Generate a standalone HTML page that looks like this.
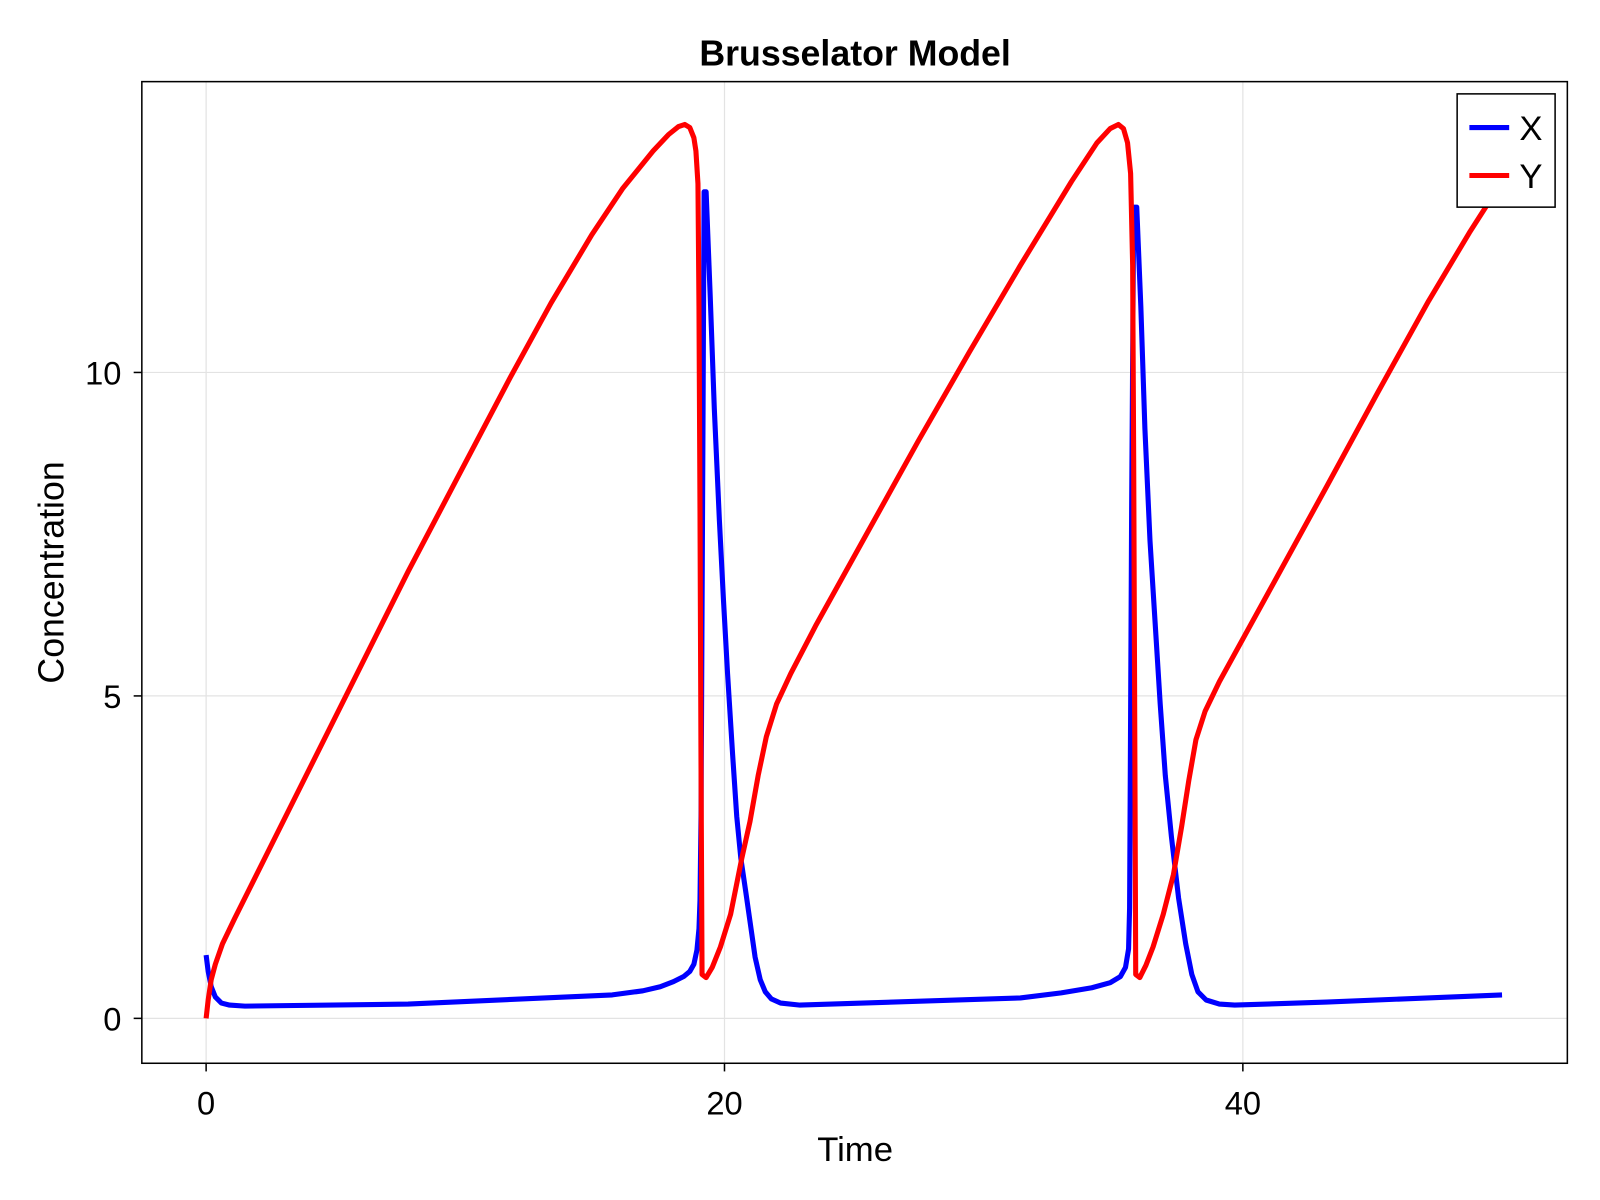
<!DOCTYPE html>
<html><head><meta charset="utf-8"><style>
html,body{margin:0;padding:0;background:#fff;}
svg{display:block;}
text{font-family:"Liberation Sans",sans-serif;}
</style></head><body>
<svg width="1600" height="1200" viewBox="0 0 1568 1176" xmlns="http://www.w3.org/2000/svg">
<rect width="1568" height="1176" fill="#fff"/>
<g stroke="#e3e3e3" stroke-width="1.2">
<line x1="202" y1="80" x2="202" y2="1042"/>
<line x1="710" y1="80" x2="710" y2="1042"/>
<line x1="1218" y1="80" x2="1218" y2="1042"/>
<line x1="139" y1="998" x2="1536" y2="998"/>
<line x1="139" y1="682" x2="1536" y2="682"/>
<line x1="139" y1="365" x2="1536" y2="365"/>
</g>
<g fill="none" stroke-width="5" stroke-linejoin="round" stroke-linecap="butt">
<polyline stroke="#0000ff" points="202,936 204,952 207,967 211,977 217,983 225,985 240,986 400,984 600,975 630,971 647,967 660,962 670,957 676,952 680,945 683,931 685,910 686,882 687,800 688,600 689,400 690,188 692,188 696,290 700,400 705,510 709,588 713,660 718,740 722,800 726,841 731,875 736,910 740,938 745,960 750,972 756,979 765,983 784,985 1000,978 1040,973 1070,968 1088,963 1098,957 1103,948 1106,930 1107,890 1108,700 1109,500 1111,203 1114,203 1118,300 1122,420 1127,530 1132,610 1137,690 1142,760 1148,820 1155,880 1162,925 1168,955 1174,972 1182,980 1195,984 1210,985 1300,982 1472,975"/>
<polyline stroke="#ff0000" points="202,998 204,980 207,960 211,945 218,925 230,900 260,840 300,760 350,660 400,560 450,465 500,370 540,297 580,230 610,185 640,148 655,132 665,124 671,122 676,125 680,135 682,148 684,180 685,300 686,500 687,750 688,955 692,958 698,948 706,928 716,896 727,841 735,805 743,760 751,722 761,690 775,660 800,612 850,522 900,432 950,345 1000,260 1050,178 1075,140 1088,126 1096,122 1101,126 1105,140 1108,170 1110,260 1111,450 1112,700 1113,955 1117,958 1123,946 1130,928 1140,896 1150,857 1158,810 1165,765 1172,725 1181,697 1195,668 1250,568 1300,477 1350,385 1400,295 1440,228 1472,178"/>
</g>
<rect x="139" y="80" width="1397" height="962" fill="none" stroke="#000" stroke-width="1.5"/>
<g stroke="#000" stroke-width="1.5">
<line x1="131" y1="998" x2="139" y2="998"/>
<line x1="131" y1="682" x2="139" y2="682"/>
<line x1="131" y1="365" x2="139" y2="365"/>
<line x1="202" y1="1042" x2="202" y2="1050"/>
<line x1="710" y1="1042" x2="710" y2="1050"/>
<line x1="1218" y1="1042" x2="1218" y2="1050"/>
</g>
<g font-size="32" fill="#000">
<text x="119" y="1010" text-anchor="end">0</text>
<text x="119" y="694" text-anchor="end">5</text>
<text x="119" y="377" text-anchor="end">10</text>
<text x="202" y="1092" text-anchor="middle">0</text>
<text x="710" y="1092" text-anchor="middle">20</text>
<text x="1218" y="1092" text-anchor="middle">40</text>
</g>
<text x="838" y="1138" font-size="34" text-anchor="middle">Time</text>
<text transform="translate(62,561) rotate(-90)" font-size="35" text-anchor="middle">Concentration</text>
<text x="838" y="64" font-size="35" font-weight="bold" text-anchor="middle">Brusselator Model</text>
<rect x="1428" y="92" width="96" height="111" fill="#fff" stroke="#000" stroke-width="1.5"/>
<line x1="1440" y1="125" x2="1479" y2="125" stroke="#0000ff" stroke-width="5"/>
<line x1="1440" y1="172" x2="1479" y2="172" stroke="#ff0000" stroke-width="5"/>
<text x="1489" y="137" font-size="34">X</text>
<text x="1489" y="184" font-size="34">Y</text>
</svg>
</body></html>
